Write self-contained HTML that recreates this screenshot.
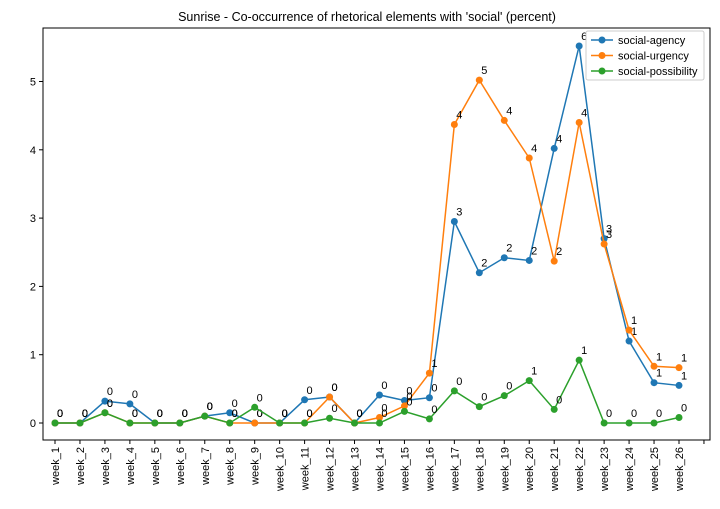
<!DOCTYPE html>
<html><head><meta charset="utf-8"><style>
body{margin:0;background:#fff;font-family:"Liberation Sans",sans-serif}
svg text{font-family:"Liberation Sans",sans-serif}
</style></head><body>
<svg id="chart" width="720" height="504" xmlns="http://www.w3.org/2000/svg">
<rect width="720" height="504" fill="#fff"/>
<text x="367" y="21" text-anchor="middle" font-size="12.5">Sunrise - Co-occurrence of rhetorical elements with 'social' (percent)</text>
<g id="grid"></g>
<g id="series"></g>
<rect x="43" y="28" width="667" height="412" fill="none" stroke="#000" stroke-width="1"/>
<g id="legend">
<rect x="586" y="31" width="118" height="49" fill="#fff" fill-opacity="0.8" stroke="#ccc" rx="2"/>
</g>
</svg>
<script>
const categories = ["week_1","week_2","week_3","week_4","week_5","week_6","week_7","week_8","week_9","week_10","week_11","week_12","week_13","week_14","week_15","week_16","week_17","week_18","week_19","week_20","week_21","week_22","week_23","week_24","week_25","week_26"];
const agency = [0,0,0.32,0.28,0,0,0.1,0.15,0,0,0.34,0.38,0,0.41,0.33,0.37,2.95,2.2,2.42,2.38,4.02,5.52,2.7,1.2,0.59,0.55];
const urgency = [0,0,0.15,0,0,0,0.1,0,0,0,0,0.38,0,0.08,0.25,0.73,4.37,5.02,4.43,3.88,2.37,4.4,2.62,1.36,0.83,0.81];
const possibility = [0,0,0.15,0,0,0,0.1,0,0.23,0,0,0.07,0,0,0.17,0.06,0.47,0.24,0.4,0.62,0.2,0.92,0,0,0,0.08];
const seriesNames = ["social-agency","social-urgency","social-possibility"];
const yTicks = [0,1,2,3,4,5];

const NS="http://www.w3.org/2000/svg";
const colors=["#1f77b4","#ff7f0e","#2ca02c"];
const xS=i=>55+i*24.96;
const yS=v=>423-v*68.3;
function mk(tag,attrs,parent){const e=document.createElementNS(NS,tag);for(const k in attrs)e.setAttribute(k,attrs[k]);parent.appendChild(e);return e;}
const grid=document.getElementById('grid');
yTicks.forEach(t=>{
  const l=mk('line',{x1:39,x2:43,y1:yS(t),y2:yS(t),stroke:'#000'},grid);
  
  
  const tx=mk('text',{x:36,y:yS(t)+4,'text-anchor':'end','font-size':11},grid);
  tx.textContent=t;
  
  
});
for(let i=0;i<=categories.length;i++){
  const x=xS(i);
  const l=mk('line',{x1:x,x2:x,y1:440,y2:444,stroke:'#000'},grid);
  
  
  if(i<categories.length){
    const tx=mk('text',{transform:`translate(${x+4},447) rotate(-90)`,'text-anchor':'end','font-size':11},grid);
    tx.textContent=categories[i];
    
    
  }
}
const sg=document.getElementById('series');
[agency,urgency,possibility].forEach((d,si)=>{
  const g=mk('g',{},sg);
  
  
  const p=mk('polyline',{points:d.map((v,i)=>xS(i)+','+yS(v)).join(' '),fill:'none',stroke:colors[si],'stroke-width':1.5},g);
  
  
  d.forEach((v,i)=>{
    const c=mk('circle',{cx:xS(i),cy:yS(v),r:3.5,fill:colors[si]},g);
    
    
    const t=mk('text',{x:xS(i)+5,y:yS(v)-6,'text-anchor':'middle','font-size':11},g);
    t.textContent=Math.round(v);
    
    
  });
});
const lg=document.getElementById('legend');
seriesNames.forEach((n,i)=>{
  const y=40+i*15.5;
  const l=mk('line',{x1:591,x2:613,y1:y,y2:y,stroke:colors[i],'stroke-width':1.5},lg);
  
  
  const c=mk('circle',{cx:602,cy:y,r:3.5,fill:colors[i]},lg);
  
  
  const t=mk('text',{x:618,y:y+4,'font-size':11},lg);
  t.textContent=n;
  
  
});
</script>
</body></html>
